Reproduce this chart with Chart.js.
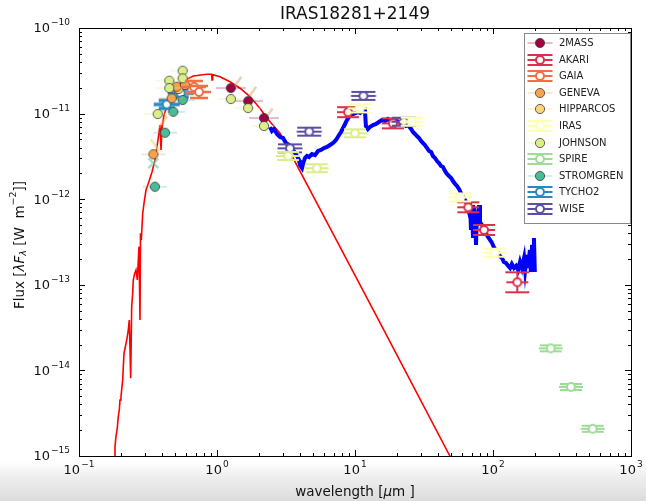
<!DOCTYPE html>
<html>
<head>
<meta charset="utf-8">
<script src="https://cdn.jsdelivr.net/npm/chart.js@4.4.1/dist/chart.umd.min.js"></script>
<style>
  html, body { margin: 0; padding: 0; }
  body {
    width: 646px; height: 501px; overflow: hidden;
    background: linear-gradient(to bottom, #ffffff 0px, #ffffff 462px, #efefef 476px, #dcdcdc 501px);
  }
  canvas { display: block; }
</style>
</head>
<body>
<canvas id="sed" width="646" height="501"></canvas>
<script>
// photometry, wavelength in micron, flux in W m^-2
const wave2mass = [1.26, 1.68, 2.19];
const flux2mass = [1.99e-11, 1.40e-11, 8.88e-12];

const waveAkari = [8.90, 18.8, 66.2, 86.1, 150];
const fluxAkari = [1.04e-11, 7.70e-12, 8.04e-13, 4.37e-13, 1.07e-13];

const waveGaia = [0.681, 0.741];
const fluxGaia = [2.05e-11, 1.79e-11];

const waveGeneva = [0.346, 0.470, 0.511, 0.586];
const fluxGeneva = [3.35e-12, 1.51e-11, 2.06e-11, 2.16e-11];

const waveHipparcos = [0.526];
const fluxHipparcos = [1.94e-11];

const waveIras = [10.8, 25.8, 57.7, 103];
const fluxIras = [1.15e-11, 8.04e-12, 1.05e-12, 2.37e-13];

const waveJohnson = [0.372, 0.451, 0.451, 0.564, 0.564, 1.26, 1.68, 2.19];
const fluxJohnson = [9.89e-12, 2.42e-11, 1.99e-11, 3.17e-11, 2.58e-11, 1.48e-11, 1.16e-11, 7.16e-12];
const waveJohnsonIR = [3.27, 5.28, 10.0];
const fluxJohnsonIR = [3.20e-12, 2.30e-12, 5.89e-12];

const waveSpire = [262, 367, 528];
const fluxSpire = [1.81e-14, 6.40e-15, 2.08e-15];

const waveStromgren = [0.355, 0.420, 0.482, 0.564];
const fluxStromgren = [1.40e-12, 5.98e-12, 1.05e-11, 1.44e-11];

const waveTycho = [0.432, 0.546];
const fluxTycho = [1.28e-11, 1.73e-11];

const waveWise = [3.38, 4.66, 11.5, 22.6];
const fluxWise = [3.93e-12, 6.15e-12, 1.61e-11, 8.04e-12];

// faint slanted error marks around the optical / near-IR points
const waveMarks = [1.39, 1.78, 2.34, 0.346, 0.355, 0.406];
const fluxMarks = [2.26e-11, 1.73e-11, 9.63e-12, 2.63e-12, 4.30e-12, 7.98e-12];

// stellar model
const modelSed = [
  [0.1794, 9.8e-16], [0.1823, 1.29e-15], [0.1853, 1.68e-15], [0.1894, 2.11e-15],
  [0.1926, 2.88e-15], [0.1959, 3.45e-15], [0.1982, 4.51e-15], [0.2015, 4.93e-15],
  [0.2049, 6.45e-15], [0.2073, 7.73e-15], [0.2094, 1.10e-14], [0.2119, 1.58e-14],
  [0.2165, 1.89e-14], [0.2217, 2.26e-14], [0.2276, 2.96e-14], [0.2314, 3.88e-14],
  [0.2369, 8.08e-15], [0.2409, 5.55e-14], [0.2449, 7.96e-14], [0.2474, 1.14e-13],
  [0.2532, 1.36e-13], [0.2588, 1.49e-13], [0.2645, 1.14e-13], [0.2721, 2.79e-13],
  [0.2767, 3.88e-14], [0.2790, 4.00e-13], [0.2828, 3.34e-13], [0.2895, 6.84e-13],
  [0.2958, 8.96e-13], [0.3059, 1.28e-12], [0.3179, 1.53e-12], [0.3381, 2.08e-12],
  [0.3554, 2.87e-12], [0.3736, 4.92e-12], [0.3864, 7.36e-12], [0.3928, 3.76e-12],
  [0.3994, 6.79e-12], [0.4129, 9.63e-12], [0.4319, 1.20e-11], [0.4695, 1.58e-11],
  [0.5395, 2.26e-11], [0.6032, 2.52e-11], [0.6734, 2.75e-11], [0.8423, 2.88e-11],
  [0.9154, 2.88e-11], [0.920, 2.47e-11], [0.930, 2.85e-11], [1.051, 2.70e-11],
  [1.242, 2.36e-11], [1.468, 1.98e-11], [1.735, 1.58e-11], [2.049, 1.15e-11],
  [2.422, 8.04e-12], [2.861, 5.89e-12], [6.6, 4.6e-13], [15.2, 3.6e-14],
  [48.7, 1.0e-15], [57.7, 6.0e-16]
];

// infrared spectrum
const irSpectrum = [
  [2.42, 6.97e-12], [2.50, 6.26e-12], [2.59, 6.61e-12], [2.72, 5.78e-12], [2.86, 5.33e-12],
  [3.01, 5.19e-12], [3.16, 4.53e-12], [3.33, 4.30e-12], [3.49, 3.96e-12], [3.67, 3.47e-12],
  [3.80, 3.20e-12], [3.93, 2.87e-12], [3.99, 2.51e-12], [4.13, 2.31e-12], [4.20, 2.58e-12],
  [4.34, 3.03e-12], [4.49, 3.20e-12], [4.64, 3.11e-12], [4.88, 3.37e-12], [5.13, 3.28e-12],
  [5.40, 3.66e-12], [5.67, 3.76e-12], [5.96, 3.96e-12], [6.27, 4.07e-12], [6.59, 4.30e-12],
  [6.93, 4.53e-12], [7.28, 4.92e-12], [7.66, 5.62e-12], [7.92, 6.10e-12], [8.19, 6.79e-12],
  [8.47, 7.56e-12], [8.75, 8.42e-12], [9.06, 9.13e-12], [9.35, 9.63e-12], [9.68, 9.89e-12],
  [10.2, 1.016e-11], [10.5, 1.044e-11], [10.9, 1.016e-11], [11.4, 1.072e-11], [11.8, 1.101e-11],
  [12.0, 7.16e-12], [12.4, 6.61e-12], [12.8, 6.97e-12], [13.5, 7.36e-12], [14.2, 7.56e-12],
  [14.9, 7.98e-12], [15.7, 8.42e-12], [16.5, 8.20e-12], [17.3, 8.65e-12], [18.2, 8.20e-12],
  [19.2, 7.98e-12], [20.1, 8.20e-12], [21.2, 7.77e-12], [22.3, 7.56e-12], [23.4, 7.16e-12],
  [24.2, 7.36e-12], [25.5, 6.61e-12], [26.3, 6.10e-12], [27.2, 5.78e-12], [28.1, 5.47e-12],
  [29.1, 5.19e-12], [30.1, 4.79e-12], [31.1, 4.53e-12], [32.1, 4.30e-12], [33.3, 3.96e-12],
  [34.4, 3.66e-12], [35.6, 3.56e-12], [36.7, 3.20e-12], [38.0, 3.03e-12], [39.3, 2.79e-12],
  [40.6, 2.65e-12], [42.0, 2.44e-12], [43.4, 2.38e-12], [44.9, 2.14e-12], [46.4, 1.97e-12],
  [48.0, 1.87e-12], [49.7, 1.77e-12], [51.3, 1.63e-12], [53.1, 1.51e-12], [54.8, 1.43e-12],
  [56.7, 1.32e-12], [58.6, 1.18e-12], [60.7, 1.06e-12], [62.7, 9.79e-13], [64.9, 8.79e-13],
  [67.0, 7.09e-13], [68.1, 9.03e-13], [69.3, 4.37e-13], [70.5, 8.55e-13], [71.6, 3.52e-13],
  [72.8, 7.89e-13], [74.1, 6.54e-13], [75.3, 2.92e-13], [76.6, 7.09e-13], [77.8, 5.71e-13],
  [79.2, 8.55e-13], [80.5, 5.42e-13], [83.2, 4.99e-13], [86.1, 4.37e-13], [88.9, 4.03e-13],
  [92.0, 3.62e-13], [95.1, 3.34e-13], [98.4, 3.08e-13], [102, 2.69e-13], [105, 2.55e-13],
  [109, 2.35e-13], [112, 2.17e-13], [116, 2.06e-13], [120, 1.85e-13], [124, 1.80e-13],
  [129, 1.66e-13], [133, 1.57e-13], [137, 1.75e-13], [142, 1.57e-13], [147, 1.66e-13],
  [152, 1.49e-13], [157, 1.85e-13], [162, 1.57e-13], [168, 2.06e-13], [171, 1.49e-13],
  [176, 2.23e-13], [179, 1.57e-13], [185, 2.55e-13], [188, 1.41e-13], [192, 2.92e-13],
  [195, 1.49e-13], [198, 3.52e-13], [201, 1.41e-13]
];

const xTickExp = [-1, 0, 1, 2, 3];
const yTickExp = [-15, -14, -13, -12, -11, -10];

const FONT = '"DejaVu Sans", "Bitstream Vera Sans", sans-serif';

// errorbar glyph: open circle, x-error line, y-error caps
function openGlyph(color, hw, capD, capHw, lw) {
  const w = 2 * Math.ceil(Math.max(hw, capHw) + 2);
  const h = 2 * Math.ceil(Math.max(capD, 5) + 3);
  const c = document.createElement('canvas');
  c.width = w; c.height = h;
  const g = c.getContext('2d');
  const cx = w / 2, cy = h / 2;
  g.strokeStyle = color;
  g.lineWidth = lw;
  g.beginPath();
  g.moveTo(cx - hw, cy); g.lineTo(cx + hw, cy);
  g.moveTo(cx, cy - capD); g.lineTo(cx, cy + capD);
  g.moveTo(cx - capHw, cy - capD); g.lineTo(cx + capHw, cy - capD);
  g.moveTo(cx - capHw, cy + capD); g.lineTo(cx + capHw, cy + capD);
  g.stroke();
  g.beginPath();
  g.arc(cx, cy, 4, 0, Math.PI * 2);
  g.fillStyle = '#ffffff';
  g.fill();
  g.lineWidth = 2;
  g.stroke();
  return c;
}

// filled marker with a faint x-error line
function filledGlyph(color, hw) {
  const w = 2 * Math.ceil(hw + 1);
  const h = 14;
  const c = document.createElement('canvas');
  c.width = w; c.height = h;
  const g = c.getContext('2d');
  const cx = w / 2, cy = h / 2;
  g.globalAlpha = 0.45;
  g.strokeStyle = color;
  g.lineWidth = 1.2;
  g.beginPath();
  g.moveTo(cx - hw, cy); g.lineTo(cx + hw, cy);
  g.stroke();
  g.globalAlpha = 1;
  g.beginPath();
  g.arc(cx, cy, 4.6, 0, Math.PI * 2);
  g.fillStyle = color;
  g.fill();
  g.strokeStyle = '#3c3c3c';
  g.lineWidth = 0.8;
  g.stroke();
  return c;
}

const colors = {
  '2MASS': '#9e0142', AKARI: '#dc3149', GAIA: '#f46d43', GENEVA: '#f9a24e',
  HIPPARCOS: '#fdd47a', IRAS: '#ffffb0', JOHNSON: '#dcee88', SPIRE: '#9fdb98',
  STROMGREN: '#48bb98', TYCHO2: '#2a8ac0', WISE: '#5e4fa2'
};

const legendGlyphs = {
  '2MASS': filledGlyph(colors['2MASS'], 12.5),
  AKARI: openGlyph(colors.AKARI, 12.5, 5, 12.5, 2),
  GAIA: openGlyph(colors.GAIA, 12.5, 5, 12.5, 2),
  GENEVA: filledGlyph(colors.GENEVA, 12.5),
  HIPPARCOS: filledGlyph(colors.HIPPARCOS, 12.5),
  IRAS: openGlyph(colors.IRAS, 12.5, 5, 12.5, 2),
  JOHNSON: filledGlyph(colors.JOHNSON, 12.5),
  SPIRE: openGlyph(colors.SPIRE, 12.5, 5, 12.5, 2),
  STROMGREN: filledGlyph(colors.STROMGREN, 12.5),
  TYCHO2: openGlyph(colors.TYCHO2, 12.5, 5, 12.5, 2),
  WISE: openGlyph(colors.WISE, 12.5, 5, 12.5, 2)
};

function pts(wave, flux) {
  return wave.map((w, i) => ({ x: w, y: flux[i] }));
}

function photDataset(label, wave, flux, style) {
  return {
    label: label,
    data: pts(wave, flux),
    pointStyle: style,
    pointRadius: 5,
    showLine: false,
    order: 0
  };
}

const akariStyle = waveAkari.map((w, i) =>
  i === waveAkari.length - 1
    ? openGlyph(colors.AKARI, 11, 10, 12, 2)
    : openGlyph(colors.AKARI, 11, 5, 11, 2));

const datasets = [
  {
    label: 'model',
    data: modelSed.map(p => ({ x: p[0], y: p[1] })),
    showLine: true, borderColor: '#ff0000', borderWidth: 1.6,
    pointRadius: 0, order: 10
  },
  {
    label: 'spectrum',
    data: irSpectrum.map(p => ({ x: p[0], y: p[1] })),
    showLine: true, borderColor: '#0000ff', borderWidth: 4,
    pointRadius: 0, order: 9
  },
  {
    label: 'marks',
    data: pts(waveMarks, fluxMarks),
    pointStyle: ['line', 'line', 'line', 'crossRot', 'line', 'line'],
    rotation: [-55, -55, -55, 0, 55, -55],
    pointRadius: [8, 8, 8, 7, 7, 7],
    borderWidth: 2.5,
    borderColor: ['rgba(222,170,120,0.55)', 'rgba(222,170,120,0.55)', 'rgba(222,170,120,0.55)',
                  'rgba(110,200,170,0.6)', 'rgba(230,220,110,0.6)', 'rgba(249,162,78,0.5)'],
    showLine: false, order: 5
  },
  photDataset('IRAS', waveIras, fluxIras, openGlyph(colors.IRAS, 12, 4, 11, 2)),
  photDataset('SPIRE', waveSpire, fluxSpire, openGlyph(colors.SPIRE, 12, 3, 11, 2)),
  photDataset('JOHNSON IR', waveJohnsonIR, fluxJohnsonIR, openGlyph(colors.JOHNSON, 12, 4, 11, 2)),
  photDataset('WISE', waveWise, fluxWise, openGlyph(colors.WISE, 12.5, 4, 12, 2)),
  photDataset('AKARI', waveAkari, fluxAkari, akariStyle),
  photDataset('GAIA', waveGaia, fluxGaia, openGlyph(colors.GAIA, 12, 6, 9, 2.5)),
  photDataset('JOHNSON', waveJohnson, fluxJohnson, filledGlyph(colors.JOHNSON, 13)),
  photDataset('GENEVA', waveGeneva, fluxGeneva, filledGlyph(colors.GENEVA, 12)),
  photDataset('HIPPARCOS', waveHipparcos, fluxHipparcos, filledGlyph(colors.HIPPARCOS, 12)),
  photDataset('STROMGREN', waveStromgren, fluxStromgren, filledGlyph(colors.STROMGREN, 12)),
  photDataset('2MASS', wave2mass, flux2mass, filledGlyph(colors['2MASS'], 15)),
  photDataset('TYCHO2', waveTycho, fluxTycho, openGlyph(colors.TYCHO2, 13, 4, 8, 3.5))
];

const legendOrder = ['2MASS', 'AKARI', 'GAIA', 'GENEVA', 'HIPPARCOS', 'IRAS',
                     'JOHNSON', 'SPIRE', 'STROMGREN', 'TYCHO2', 'WISE'];

// "10" with a raised exponent
function drawPow(ctx, exp, x, y, align) {
  const txt = exp < 0 ? '\u2212' + Math.abs(exp) : String(exp);
  ctx.font = '13px ' + FONT;
  const bw = ctx.measureText('10').width;
  ctx.font = '9px ' + FONT;
  const ew = ctx.measureText(txt).width;
  const total = bw + 1 + ew;
  const left = align === 'right' ? x - total : x - total / 2;
  ctx.textAlign = 'left';
  ctx.textBaseline = 'middle';
  ctx.font = '13px ' + FONT;
  ctx.fillText('10', left, y);
  ctx.font = '9px ' + FONT;
  ctx.fillText(txt, left + bw + 1, y - 6);
}

// draws a run of [text, font, dy] pieces starting at x
function drawPieces(ctx, pieces, x, y) {
  let cx = x;
  pieces.forEach(p => {
    ctx.font = p[1];
    ctx.fillText(p[0], cx, y + (p[2] || 0));
    cx += ctx.measureText(p[0]).width;
  });
}
function piecesWidth(ctx, pieces) {
  let w = 0;
  pieces.forEach(p => { ctx.font = p[1]; w += ctx.measureText(p[0]).width; });
  return w;
}

const framePlugin = {
  id: 'frame',
  afterDraw(chart) {
    const ctx = chart.ctx;
    const a = chart.chartArea;
    const xs = chart.scales.x, ys = chart.scales.y;
    ctx.save();
    ctx.strokeStyle = '#000';
    ctx.lineWidth = 1;

    // inward ticks on all four sides
    ctx.beginPath();
    for (let e = -1; e < 3; e++) {
      for (let m = 1; m < 10; m++) {
        const px = Math.round(xs.getPixelForValue(m * Math.pow(10, e))) + 0.5;
        const len = m === 1 ? 6 : 3;
        ctx.moveTo(px, a.bottom); ctx.lineTo(px, a.bottom - len);
        ctx.moveTo(px, a.top); ctx.lineTo(px, a.top + len);
      }
    }
    for (let e = -15; e < -10; e++) {
      for (let m = 1; m < 10; m++) {
        const py = Math.round(ys.getPixelForValue(m * Math.pow(10, e))) + 0.5;
        const len = m === 1 ? 6 : 3;
        ctx.moveTo(a.left, py); ctx.lineTo(a.left + len, py);
        ctx.moveTo(a.right, py); ctx.lineTo(a.right - len, py);
      }
    }
    ctx.stroke();
    ctx.strokeRect(Math.round(a.left) + 0.5, Math.round(a.top) + 0.5,
                   Math.round(a.right - a.left), Math.round(a.bottom - a.top));

    // tick labels
    ctx.fillStyle = '#111';
    xTickExp.forEach(e => drawPow(ctx, e, xs.getPixelForValue(Math.pow(10, e)), a.bottom + 15, 'center'));
    yTickExp.forEach(e => drawPow(ctx, e, a.left - 9, ys.getPixelForValue(Math.pow(10, e)) + 1, 'right'));

    // title
    ctx.textAlign = 'center';
    ctx.textBaseline = 'middle';
    ctx.font = '17px ' + FONT;
    ctx.fillText('IRAS18281+2149', (a.left + a.right) / 2, 15);

    // x axis title
    const base = '13.5px ' + FONT;
    const ital = 'italic 13.5px ' + FONT;
    const xt = [['wavelength [', base], ['\u03bc', ital], ['m ]', base]];
    ctx.textAlign = 'left';
    drawPieces(ctx, xt, (a.left + a.right) / 2 - piecesWidth(ctx, xt) / 2, 492);

    // y axis title
    const yt = [['Flux [', base], ['\u03bbF', ital], ['\u03bb', 'italic 9.5px ' + FONT, 4],
                [' [W  m', base], ['\u22122', '9.5px ' + FONT, -6], [']]', base]];
    ctx.save();
    ctx.translate(20, 245);
    ctx.rotate(-Math.PI / 2);
    drawPieces(ctx, yt, -piecesWidth(ctx, yt) / 2, 0);
    ctx.restore();

    // legend box
    const lx = 524.5, ly = 33.5, lw = 106, lh = 190;
    ctx.fillStyle = '#ffffff';
    ctx.fillRect(lx, ly, lw, lh);
    ctx.strokeStyle = '#8a8a8a';
    ctx.strokeRect(lx, ly, lw, lh);
    ctx.font = '10px ' + FONT;
    ctx.textAlign = 'left';
    ctx.textBaseline = 'middle';
    ctx.fillStyle = '#222';
    legendOrder.forEach((name, i) => {
      const cy = 43 + i * 16.6;
      const g = legendGlyphs[name];
      ctx.drawImage(g, Math.round(539.5 - g.width / 2), Math.round(cy - g.height / 2));
      ctx.fillText(name, 559, cy + 0.5);
    });
    ctx.restore();
  }
};

new Chart(document.getElementById('sed').getContext('2d'), {
  type: 'scatter',
  data: { datasets: datasets },
  options: {
    responsive: false,
    animation: false,
    devicePixelRatio: 1,
    layout: { padding: { left: 79, top: 28, right: 15, bottom: 45 } },
    scales: {
      x: { type: 'logarithmic', display: false, min: 0.1, max: 1000 },
      y: { type: 'logarithmic', display: false, min: 1e-15, max: 1e-10 }
    },
    plugins: {
      legend: { display: false },
      tooltip: { enabled: false }
    },
    elements: { line: { tension: 0 } }
  },
  plugins: [framePlugin]
});
</script>
</body>
</html>
